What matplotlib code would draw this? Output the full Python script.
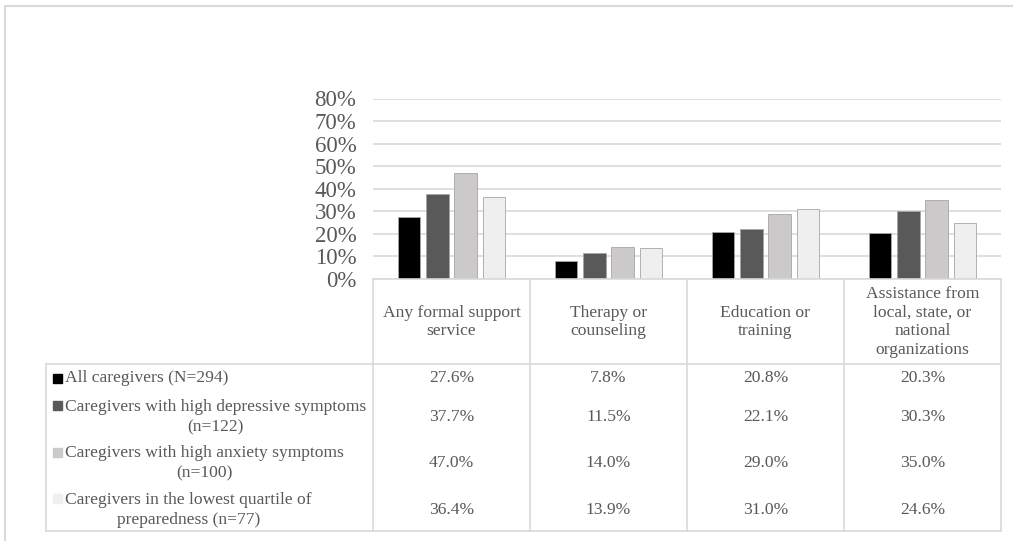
import numpy as np
import matplotlib.pyplot as plt
from matplotlib.lines import Line2D
from matplotlib.patches import Rectangle

plt.rcParams['font.family'] = ['Liberation Serif', 'DejaVu Serif']

# services along the x axis
services = ['Any formal support\nservice', 'Therapy or\ncounseling',
            'Education or\ntraining',
            'Assistance from\nlocal, state, or\nnational\norganizations']

# caregiver groups (legend / table rows)
groups = ['All caregivers (N=294)',
          'Caregivers with high depressive symptoms\n(n=122)',
          'Caregivers with high anxiety symptoms\n(n=100)',
          'Caregivers in the lowest quartile of\npreparedness (n=77)']

# percent using each service, one list per group
all_caregivers = [27.6, 7.8, 20.8, 20.3]
high_depressive = [37.7, 11.5, 22.1, 30.3]
high_anxiety = [47.0, 14.0, 29.0, 35.0]
low_preparedness = [36.4, 13.9, 31.0, 24.6]
values = [all_caregivers, high_depressive, high_anxiety, low_preparedness]

colors = ['#000000', '#595959', '#cbc9ca', '#efefef']
text_color = '#595959'
line_color = '#d9d9d9'
fs_table = 12.6

W, H = 1013, 541
fig = plt.figure(figsize=(W / 100, H / 100), dpi=100)


def fx(x):
    return x / W


def fy(y):
    return 1 - y / H


# pixel layout
ax_left, ax_right = 373, 1001
ax_top, ax_bot = 98.5, 279
head_bot, tab_bot, tab_left = 364, 531, 46

ax = fig.add_axes([fx(ax_left), fy(ax_bot), fx(ax_right - ax_left),
                   (ax_bot - ax_top) / H])

n = len(services)
x = np.arange(n)
bw = 0.145
gap = 0.035
for i, (vals, c) in enumerate(zip(values, colors)):
    off = (i - 1.5) * (bw + gap)
    ax.bar(x + off, np.array(vals) / 100, bw, color=c,
           edgecolor='#a6a6a6', linewidth=0.6, zorder=3)

ax.set_xlim(-0.5, n - 0.5)
ax.set_ylim(0, 0.8)
ax.set_yticks(np.arange(0, 0.81, 0.1))
ax.set_yticklabels([f'{int(round(v * 100))}%' for v in np.arange(0, 0.81, 0.1)],
                   fontsize=16.5, color=text_color)
ax.tick_params(axis='y', length=0, pad=12)
ax.set_xticks([])
ax.grid(axis='y', color=line_color, linewidth=1.2, zorder=0)
for s in ax.spines.values():
    s.set_visible(False)

# table grid
col_w = (ax_right - ax_left) / n
col_x = [ax_left + k * col_w for k in range(n + 1)]


def hline(y, x0, x1):
    fig.add_artist(Line2D([fx(x0), fx(x1)], [fy(y), fy(y)],
                          color=line_color, linewidth=1.2))


def vline(x, y0, y1):
    fig.add_artist(Line2D([fx(x), fx(x)], [fy(y0), fy(y1)],
                          color=line_color, linewidth=1.2))


hline(ax_bot, ax_left, ax_right)
hline(head_bot, tab_left, ax_right)
hline(tab_bot, tab_left, ax_right)
for cx in col_x:
    vline(cx, ax_bot, tab_bot)
vline(tab_left, head_bot, tab_bot)

# header cells
for k, name in enumerate(services):
    fig.text(fx(col_x[k] + col_w / 2), fy(322), name, ha='center',
             va='center', fontsize=fs_table, color=text_color, linespacing=1.2)

# data rows
row_y = [378, 417, 463, 510]
first_line_y = [378, 405, 452, 498]
for r, (label, vals, c) in enumerate(zip(groups, values, colors)):
    fig.text(fx(65), fy(row_y[r]), label, ha='left', va='center',
             multialignment='center', fontsize=fs_table, color=text_color,
             linespacing=1.35)
    fig.add_artist(Rectangle((fx(53), fy(first_line_y[r] + 4.5)),
                             9 / W, 9 / H, color=c,
                             transform=fig.transFigure))
    for k, v in enumerate(vals):
        fig.text(fx(col_x[k] + col_w / 2), fy(row_y[r]), f'{v:.1f}%',
                 ha='center', va='center', fontsize=fs_table, color=text_color)

# outer border
fig.add_artist(Rectangle((fx(5), fy(H + 5)), (W + 10) / W, (H - 1) / H,
                         fill=False, edgecolor='#d9d9d9', linewidth=1.5,
                         transform=fig.transFigure))

fig.savefig('out.png', dpi=100)
